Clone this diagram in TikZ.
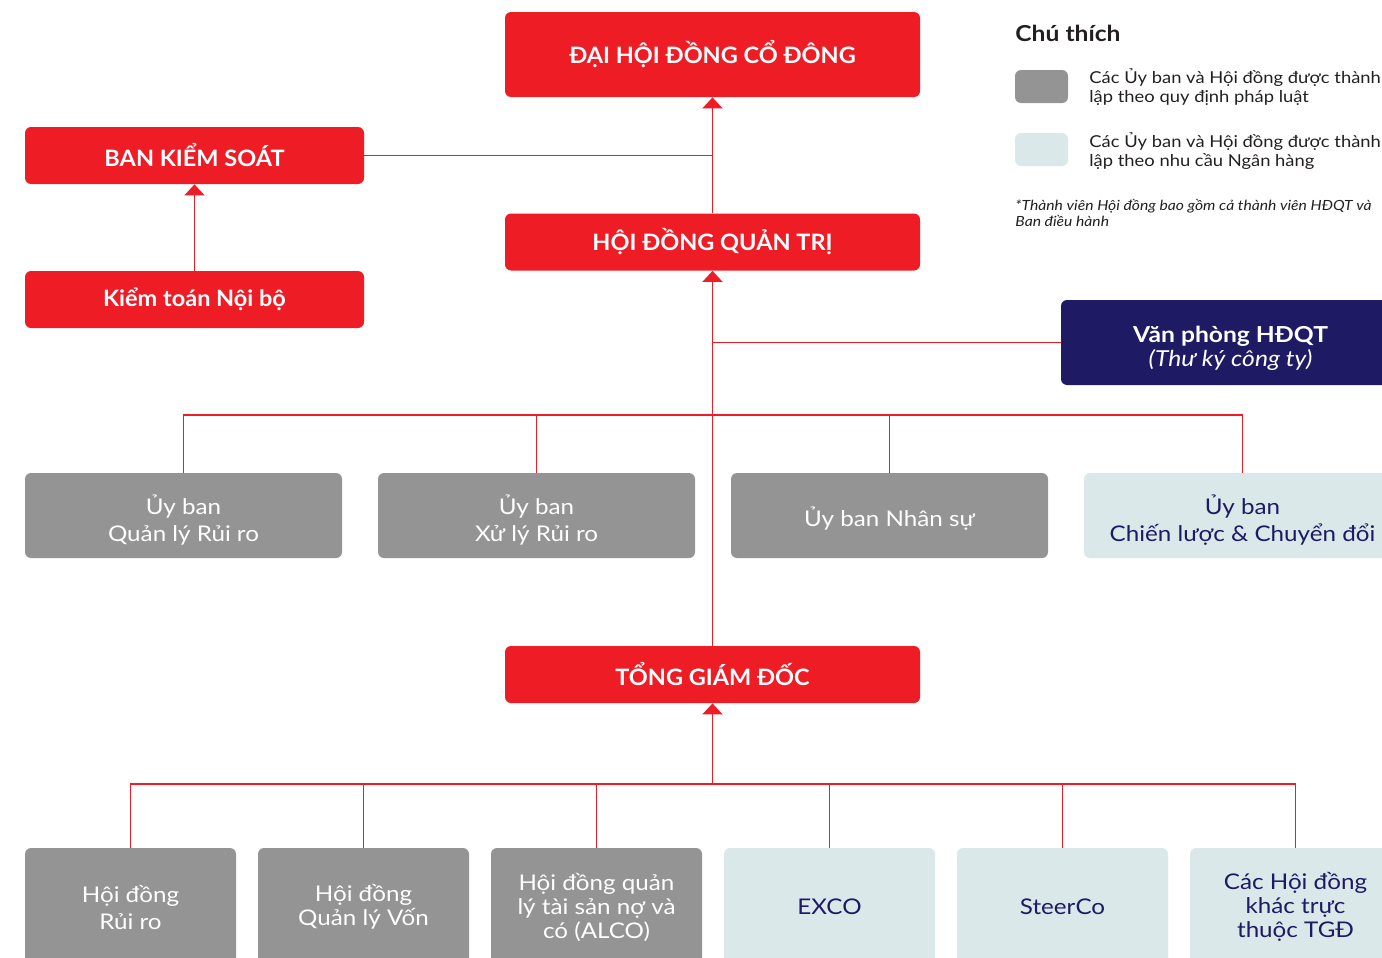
\documentclass[tikz,border=0pt]{standalone}
\usepackage{fontspec}
\setmainfont{Lato}[FakeStretch=1.12]
\newfontfamily\titlefont{Lato}[FakeStretch=1.04]
\usetikzlibrary{arrows.meta}
\definecolor{vred}{HTML}{EE1C25}
\definecolor{vgray}{HTML}{949494}
\definecolor{vlight}{HTML}{DAE8E9}
\definecolor{vnavy}{HTML}{1E1A64}
\definecolor{vtext}{HTML}{231F20}
\tikzset{
  box/.style={rounded corners=3pt, inner sep=0pt, align=center},
  redbox/.style={box, fill=vred, text=white, font=\titlefont\bfseries\fontsize{11.3}{13}\selectfont},
  graybox/.style={box, fill=vgray, text=white, font=\fontsize{10.8}{12}\selectfont},
  lightbox/.style={box, fill=vlight, text=vnavy, font=\fontsize{10.8}{12}\selectfont},
  cmte/.style={font=\fontsize{10.8}{13.5}\selectfont, minimum width=158.5pt, minimum height=42.5pt},
  council/.style={minimum width=105.5pt, minimum height=59pt},
  navybox/.style={box, fill=vnavy, text=white, font=\fontsize{11}{12}\selectfont},
  link/.style={draw=vred, line width=0.7pt},
  arr/.style={link, -{Triangle[width=10pt,length=5.5pt]}},
  legtext/.style={anchor=west, align=left, inner sep=0pt, text=vtext, font=\fontsize{8.2}{9.5}\selectfont}
}
\newcommand{\topstrut}{\rule{0pt}{14pt}}
\begin{document}
\begin{tikzpicture}[x=0.5pt,y=-0.5pt]
\useasboundingbox (0,0) rectangle (1382,958);
\clip (0,0) rectangle (1382,958);
% top level
\node[redbox, minimum width=207.5pt, minimum height=42.5pt] (dhcd) at (712.5,54.5) {ĐẠI HỘI ĐỒNG CỔ ĐÔNG};
\node[redbox, minimum width=169.5pt, minimum height=28.5pt] (bks) at (194.5,155.5) {BAN KIỂM SOÁT};
\node[redbox, minimum width=169.5pt, minimum height=28.5pt] (ktnb) at (194.5,299.5) {Kiểm toán Nội bộ};
\node[redbox, minimum width=207.5pt, minimum height=28.5pt] (hdqt) at (712.5,242) {HỘI ĐỒNG QUẢN TRỊ};
\node[navybox, minimum width=169.5pt, minimum height=42.5pt] (vp) at (1230.5,342.5) {\topstrut{\bfseries Văn phòng HĐQT}\\{\itshape (Thư ký công ty)}};
% committees
\node[graybox, cmte] (c1) at (183.5,515.5) {\topstrut Ủy ban\\Quản lý Rủi ro};
\node[graybox, cmte] (c2) at (536.5,515.5) {\topstrut Ủy ban\\Xử lý Rủi ro};
\node[graybox, cmte] (c3) at (889.5,515.5) {\rule{0pt}{12.5pt}Ủy ban Nhân sự};
\node[lightbox, cmte] (c4) at (1242.5,515.5) {\topstrut Ủy ban\\Chiến lược \& Chuyển đổi};
% CEO
\node[redbox, minimum width=207.5pt, minimum height=28.5pt] (tgd) at (712.5,674.5) {TỔNG GIÁM ĐỐC};
% bottom councils
\node[graybox, council] (b1) at (130.5,907) {Hội đồng\\[1.5pt]Rủi ro};
\node[graybox, council] (b2) at (363.5,907) {Hội đồng\\Quản lý Vốn};
\node[graybox, council] (b3) at (596.5,907) {Hội đồng quản\\lý tài sản nợ và\\có (ALCO)};
\node[lightbox, council] (b4) at (829.5,907) {EXCO};
\node[lightbox, council] (b5) at (1062.5,907) {SteerCo};
\node[lightbox, council] (b6) at (1295.5,907) {Các Hội đồng\\khác trực\\thuộc TGĐ};
% connectors
\coordinate (busA) at (0,415);
\coordinate (busB) at (0,784);
\draw[arr] (hdqt.north) -- (dhcd.south);
\draw[link] (bks.east) -- (bks.east -| hdqt.north);
\draw[arr] (ktnb.north) -- (bks.south);
\draw[arr] (tgd.north) -- (hdqt.south);
\draw[link] (vp.west) -- (vp.west -| hdqt.south);
\draw[link] (c1.north) -- (c1.north |- busA) -- (c4.north |- busA) -- (c4.north);
\draw[link] (c2.north) -- (c2.north |- busA);
\draw[link] (c3.north) -- (c3.north |- busA);
\draw[link] (b1.north) -- (b1.north |- busB) -- (b6.north |- busB) -- (b6.north);
\draw[link] (b2.north) -- (b2.north |- busB);
\draw[link] (b3.north) -- (b3.north |- busB);
\draw[link] (b4.north) -- (b4.north |- busB);
\draw[link] (b5.north) -- (b5.north |- busB);
\draw[arr] (tgd.north |- busB) -- (tgd.south);
% legend
\node[anchor=west, inner sep=0pt, text=vtext, font=\bfseries\fontsize{11}{13}\selectfont] (lt) at (1015,33) {Chú thích};
\node[fill=vgray, rounded corners=3pt, minimum width=26.5pt, minimum height=16.5pt, inner sep=0pt] (s1) at (1041.5,86.5) {};
\node[fill=vlight, rounded corners=3pt, minimum width=26.5pt, minimum height=16.5pt, inner sep=0pt] (s2) at (1041.5,149.5) {};
\node[legtext] (l1) at (1089,87) {Các Ủy ban và Hội đồng được thành\\lập theo quy định pháp luật};
\node[legtext] (l2) at (1089,151) {Các Ủy ban và Hội đồng được thành\\lập theo nhu cầu Ngân hàng};
\node[legtext, font=\itshape\fontsize{7}{8}\selectfont] (fn) at (1015,213) {*Thành viên Hội đồng bao gồm cả thành viên HĐQT và\\Ban điều hành};
\end{tikzpicture}
\end{document}
